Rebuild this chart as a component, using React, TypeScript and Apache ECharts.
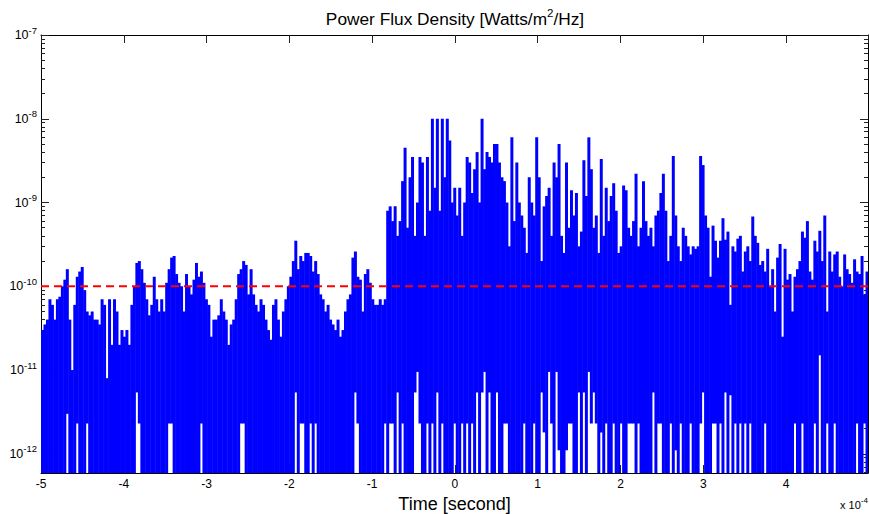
import React, { useEffect, useRef } from "react";
import * as echarts from "echarts";

// time bins (in units of 1e-4 s)
const binStart = -5;
const binWidth = 0.03;

// peak power flux density per time bin [W/m^2/Hz]
const peakValues: number[] = [
  3e-11, 3.5e-11, 4e-11, 7e-11, 6e-11, 4e-11, 7e-11, 7.5e-11, 1e-10, 1.2e-10,
  1.6e-10, 4e-11, 1e-11, 6e-11, 1.3e-10, 1.5e-10, 1.7e-10, 9e-11, 5e-11, 4.5e-11,
  5e-11, 4e-11, 4e-11, 3.5e-11, 7e-11, 6e-11, 8e-12, 7e-11, 2e-11, 7e-11,
  5e-11, 2e-11, 3e-11, 2.5e-11, 3e-11, 2e-11, 6e-11, 1e-10, 1.9e-10, 2e-10,
  1.6e-10, 1.1e-10, 7e-11, 4.5e-11, 6e-11, 1.3e-10, 7e-11, 5e-11, 7e-11, 5e-11,
  1.1e-10, 1.6e-10, 2.2e-10, 2.3e-10, 1.4e-10, 1.1e-10, 1e-10, 5e-11, 1.4e-10, 1e-10,
  8e-11, 1.2e-10, 1.9e-10, 1.3e-10, 1.5e-10, 1.1e-10, 7e-11, 6e-11, 2.5e-11, 4e-11,
  4e-11, 4.5e-11, 7e-11, 5e-11, 4e-11, 2e-11, 3.5e-11, 4e-11, 7e-11, 1.4e-10,
  1.6e-10, 2e-10, 1.8e-10, 8e-11, 1.6e-10, 8e-11, 6e-11, 5e-11, 7e-11, 6e-11,
  4e-11, 3e-11, 2.3e-11, 6e-11, 7e-11, 4e-11, 2.5e-11, 5e-11, 7e-11, 1e-10,
  1.3e-10, 2e-10, 3.5e-10, 1.6e-10, 2.3e-10, 2e-10, 2.5e-10, 2.5e-10, 2.3e-10, 1.5e-10,
  2e-10, 1.4e-10, 8e-11, 7e-11, 5e-11, 6e-11, 4e-11, 3.5e-11, 3e-11, 4e-11,
  2.5e-11, 3e-11, 5e-11, 7e-11, 8e-11, 2.2e-10, 2.6e-10, 1.3e-10, 1.2e-10, 5e-11,
  1.4e-10, 1.6e-10, 1.1e-10, 7e-11, 6e-11, 6e-11, 7e-11, 6e-11, 7e-11, 8e-10,
  9e-10, 6e-10, 9e-10, 4e-10, 6e-10, 1.8e-9, 4.5e-9, 5e-10, 2e-9, 3.5e-9,
  4e-10, 1e-9, 3.5e-9, 3e-9, 4e-10, 3.5e-9, 8e-10, 1e-8, 1.5e-9, 1e-8,
  8e-10, 1e-8, 2e-9, 1e-8, 5.5e-9, 1e-9, 1.5e-9, 7e-10, 1.5e-9, 4e-10,
  1e-9, 3.5e-9, 3e-9, 1.3e-9, 2.5e-9, 4e-9, 1e-9, 1e-8, 2.5e-9, 4e-9,
  3.5e-9, 3e-9, 5e-9, 5e-9, 3e-9, 2e-9, 1.8e-9, 1e-9, 3e-10, 6e-9,
  6e-10, 3e-9, 1e-9, 7e-10, 5e-10, 2.5e-10, 2e-9, 1e-9, 7e-10, 6e-9,
  2e-9, 2e-10, 9e-10, 1.2e-9, 1.5e-9, 4e-10, 3e-9, 2e-9, 5e-9, 4e-10,
  2.5e-10, 3e-9, 5e-10, 1.4e-9, 7e-10, 1.3e-9, 3e-10, 4.5e-10, 3.2e-9, 1.2e-9,
  6e-9, 2.5e-9, 5e-10, 7e-10, 2.5e-10, 3.3e-9, 4e-10, 1.5e-9, 6e-10, 1.2e-9,
  1.7e-9, 8e-10, 2.5e-10, 3e-10, 1.6e-9, 1.4e-9, 5e-10, 4e-10, 6e-10, 2.2e-9,
  3e-10, 5e-10, 1.8e-9, 6e-10, 4e-10, 5e-10, 3e-10, 7e-10, 8e-10, 1.3e-9,
  2.2e-9, 8e-10, 2e-10, 4e-10, 3.6e-9, 7e-10, 3e-10, 2e-10, 5e-10, 4e-10,
  3e-10, 2.4e-10, 3e-10, 2.8e-10, 3e-10, 3.6e-9, 2.8e-9, 7e-10, 5e-10, 1.3e-10,
  5.3e-10, 3.5e-10, 2.2e-10, 3.5e-10, 6.5e-10, 3.6e-10, 4.5e-10, 6e-11, 3e-10, 2.6e-10,
  3.7e-10, 4e-10, 1.5e-10, 2.6e-10, 3e-10, 2e-10, 6.8e-10, 4e-10, 3.3e-10, 1.8e-10,
  2e-10, 1.5e-10, 2.8e-10, 1e-10, 1.6e-10, 5e-11, 2.2e-10, 3.2e-10, 2.5e-11, 2.8e-10,
  1.2e-10, 1.4e-10, 5e-11, 1.3e-10, 1.6e-10, 2e-10, 4.5e-10, 3.8e-10, 6e-10, 1.5e-10,
  1.2e-10, 3.5e-10, 2.6e-10, 4.6e-10, 2e-10, 7e-10, 5e-11, 2.6e-10, 1.5e-10, 2.4e-10,
  2.6e-10, 1.3e-10, 1e-10, 2.4e-10, 1.6e-10, 1.4e-10, 1.1e-10, 2.1e-10, 1.5e-10, 1.4e-10,
  2.3e-10, 8e-11, 1.5e-10,
];

// bins whose minimum stays above the axis floor (time, minimum value)
const dropTimes: number[] = [
  -4.7, -4.56, -4.46, -3.85, -3.81, -3.46, -3.42, -3.06,
  -2.59, -2.55, -1.94, -1.88, -1.83, -1.75, -1.68, -1.21, -1.18,
  -0.838, -0.8, -0.75, -0.7, -0.64, -0.5, -0.45, -0.42, -0.34, -0.27, -0.23, -0.15,
  -0.01, 0.07, 0.135, 0.195, 0.26, 0.32, 0.36, 0.4, 0.5, 0.58, 0.625, 0.83, 0.95,
  1.05, 1.08, 1.13, 1.17, 1.21, 1.24, 1.33, 1.36, 1.4, 1.49, 1.56, 1.6, 1.63, 1.66,
  1.69, 1.75, 1.815, 1.9, 2.01, 2.08, 2.125, 2.165, 2.205, 2.385, 2.44, 2.49, 2.61,
  2.675, 2.71, 2.84, 2.95, 2.98, 3.1, 3.13, 3.21, 3.27, 3.33, 3.38, 3.43, 3.51, 3.57,
  3.75, 4.11, 4.18, 4.34, 4.39, 4.48, 4.57, 4.86, 4.94,
];
const dropFloors: number[] = [
  3e-12, 2.3e-12, 2.3e-12, 5.4e-12, 2.3e-12, 2.3e-12, 2.3e-12, 2.3e-12,
  2.3e-12, 2.3e-12, 5.4e-12, 2.3e-12, 2.3e-12, 2.3e-12, 2.3e-12, 5.4e-12, 2.3e-12,
  2.3e-12, 2.3e-12, 2.3e-12, 5.4e-12, 2.3e-12, 5.4e-12, 9.5e-12, 2.3e-12, 2.3e-12, 2.3e-12, 5.4e-12, 2.3e-12,
  2.3e-12, 2.3e-12, 2.3e-12, 2.3e-12, 5.4e-12, 5.4e-12, 9.5e-12, 5.4e-12, 5.4e-12, 2.3e-12, 2.3e-12, 2.3e-12, 2.3e-12,
  5.4e-12, 1.8e-12, 9.5e-12, 2.3e-12, 9.5e-12, 1.1e-12, 1.1e-12, 2.3e-12, 2.3e-12, 5.4e-12, 5.4e-12, 9.5e-12, 2.3e-12, 5.4e-12,
  2.3e-12, 1.8e-12, 2.3e-12, 2.3e-12, 2.3e-12, 2.3e-12, 2.3e-12, 2.3e-12, 2.3e-12, 5.4e-12, 2.3e-12, 2.3e-12, 2.3e-12,
  1.1e-12, 2.3e-12, 2.3e-12, 2.3e-12, 5.4e-12, 2.3e-12, 2.3e-12, 2.3e-12, 5.4e-12, 5e-12, 2.3e-12, 2.3e-12, 2.3e-12, 2.3e-12,
  2.3e-12, 2.3e-12, 2.3e-12, 2.3e-12, 1.5e-11, 2.3e-12, 2.3e-12, 2.3e-12, 2.3e-12,
];

const noFloor = 1e-13;
const thresholdLevel = 1e-10;
const xMin = -5;
const xMax = 4.99;
const yMin = 5.9e-13;
const yMax = 1e-7;
const yDecades = [1e-12, 1e-11, 1e-10, 1e-9, 1e-8, 1e-7];
const minorMultipliers = [2, 3, 4, 5, 6, 7, 8, 9];
const titleParts = ["Power Flux Density [Watts/m", "2", "/Hz]"];
const xAxisTitle = "Time [second]";
const xScaleNote = ["x 10", "-4"];

const FONT = "'Liberation Sans', Arial, Helvetica, sans-serif";

export default function App() {
  const ref = useRef<HTMLDivElement>(null);

  useEffect(() => {
    document.body.style.margin = "0";
    if (!ref.current) return;
    const chart = echarts.init(ref.current, null, { renderer: "svg" });

    const floors = peakValues.map(() => noFloor);
    dropTimes.forEach((t, k) => {
      const idx = Math.floor((t - binStart) / binWidth + 1e-9);
      if (idx >= 0 && idx < floors.length) floors[idx] = dropFloors[k];
    });
    const columns = peakValues.map((v, i) => [binStart + i * binWidth, v, floors[i]]);

    const minorTicks: number[] = [];
    [1e-13, ...yDecades].forEach((d) => {
      minorMultipliers.forEach((m) => {
        const v = d * m;
        if (v > yMin && v < yMax) minorTicks.push(v);
      });
    });

    const yLabelFmt = (value: number) => `{b|10}{e|${Math.round(Math.log10(value))}}`;

    const baseY = {
      type: "log" as const,
      logBase: 10,
      min: yMin,
      max: yMax,
      splitLine: { show: false },
    };
    const yLine = { show: true, onZero: false, lineStyle: { color: "#000", width: 1 } };
    const noLine = { show: false, onZero: false };

    const option: any = {
      animation: false,
      grid: { left: 41, right: 1, top: 35, bottom: 41, containLabel: false, outerBoundsMode: "none" },
      graphic: [
        {
          type: "text",
          x: 455,
          y: 7,
          style: {
            text: `{t|${titleParts[0]}}{s|${titleParts[1]}}{t|${titleParts[2]}}`,
            align: "center",
            rich: {
              t: { fontSize: 17.3, fontFamily: FONT, fill: "#000", lineHeight: 23 },
              s: { fontSize: 11.5, fontFamily: FONT, fill: "#000", verticalAlign: "top", lineHeight: 23 },
            },
          },
        },
        {
          type: "text",
          x: 840,
          y: 496,
          style: {
            text: `{b|${xScaleNote[0]}}{e|${xScaleNote[1]}}`,
            rich: {
              b: { fontSize: 11, fontFamily: FONT, fill: "#000", lineHeight: 18 },
              e: { fontSize: 8, fontFamily: FONT, fill: "#000", verticalAlign: "top", lineHeight: 18 },
            },
          },
        },
      ],
      xAxis: [
        {
          type: "value",
          min: xMin,
          max: xMax,
          interval: 1,
          position: "bottom",
          name: xAxisTitle,
          nameLocation: "middle",
          nameGap: 18,
          nameTextStyle: { fontSize: 18, fontFamily: FONT, color: "#000" },
          axisLine: { show: true, onZero: false, lineStyle: { color: "#000", width: 1 } },
          axisTick: { show: true, inside: true, length: 8, lineStyle: { color: "#222" } },
          axisLabel: {
            show: true,
            margin: 5,
            fontSize: 12,
            fontFamily: FONT,
            color: "#000",
            showMaxLabel: false,
            formatter: (v: number) => `${v}`,
          },
          splitLine: { show: false },
        },
        {
          type: "value",
          min: xMin,
          max: xMax,
          interval: 1,
          position: "top",
          axisLine: { show: true, onZero: false, lineStyle: { color: "#000", width: 1 } },
          axisTick: { show: true, inside: true, length: 8, lineStyle: { color: "#222" } },
          axisLabel: { show: false },
          splitLine: { show: false },
        },
      ],
      yAxis: [
        {
          ...baseY,
          position: "left",
          axisLine: yLine,
          axisTick: { show: true, inside: true, length: 8, customValues: yDecades, lineStyle: { color: "#222" } },
          axisLabel: {
            show: true,
            margin: 4,
            customValues: yDecades,
            formatter: yLabelFmt,
            rich: {
              b: { fontSize: 12.5, fontFamily: FONT, color: "#000", lineHeight: 20 },
              e: { fontSize: 9.5, fontFamily: FONT, color: "#000", verticalAlign: "top", lineHeight: 20 },
            },
          },
        },
        {
          ...baseY,
          position: "right",
          axisLine: yLine,
          axisTick: { show: true, inside: true, length: 8, customValues: yDecades, lineStyle: { color: "#222" } },
          axisLabel: { show: false },
        },
        {
          ...baseY,
          position: "left",
          axisLine: noLine,
          axisTick: { show: true, inside: true, length: 4, customValues: minorTicks, lineStyle: { color: "#222" } },
          axisLabel: { show: false },
        },
        {
          ...baseY,
          position: "right",
          axisLine: noLine,
          axisTick: { show: true, inside: true, length: 4, customValues: minorTicks, lineStyle: { color: "#222" } },
          axisLabel: { show: false },
        },
      ],
      series: [
        {
          type: "custom",
          xAxisIndex: 0,
          yAxisIndex: 0,
          encode: { x: 0, y: [1, 2] },
          data: columns,
          clip: true,
          renderItem: (params: any, api: any) => {
            const x0 = api.value(0);
            const hi = api.value(1);
            const lo = api.value(2);
            const pTop = api.coord([x0, hi]);
            const pBot = api.coord([x0 + binWidth, lo]);
            const cs = params.coordSys;
            const shape = echarts.graphic.clipRectByRect(
              { x: pTop[0], y: pTop[1], width: pBot[0] - pTop[0] + 0.5, height: pBot[1] - pTop[1] },
              { x: cs.x, y: cs.y, width: cs.width, height: cs.height }
            );
            if (!shape) return null;
            return { type: "rect", shape, style: { fill: "#0000ff" } };
          },
          z: 2,
        },
        {
          type: "line",
          xAxisIndex: 0,
          yAxisIndex: 0,
          data: [
            [xMin, thresholdLevel],
            [xMax, thresholdLevel],
          ],
          symbol: "none",
          lineStyle: { color: "#ff0000", width: 2, type: [8, 5] },
          z: 5,
        },
      ],
    };

    chart.setOption(option);
    return () => chart.dispose();
  }, []);

  return <div ref={ref} style={{ width: 869, height: 514 }} />;
}
